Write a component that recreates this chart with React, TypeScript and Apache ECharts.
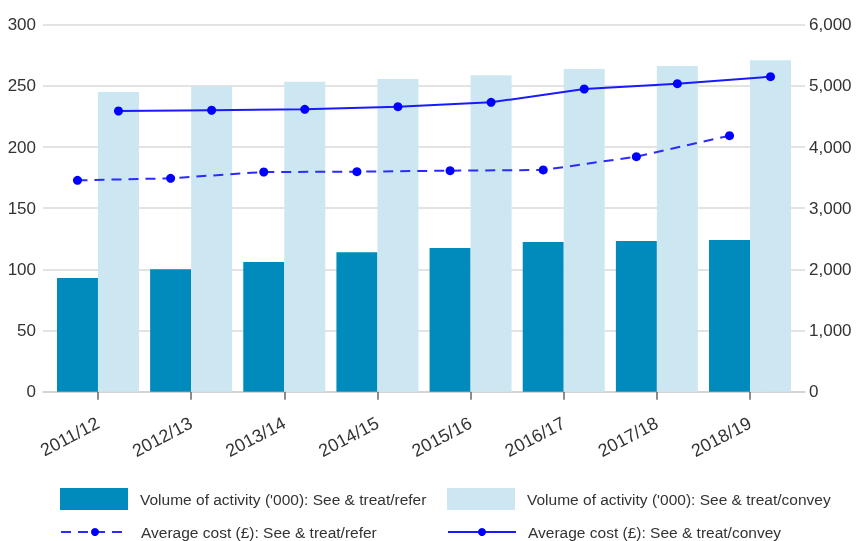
import React, { useEffect, useRef } from "react";
import * as echarts from "echarts";

const categories = ["2011/12", "2012/13", "2013/14", "2014/15", "2015/16", "2016/17", "2017/18", "2018/19"];
const volumeRefer = [93, 100, 106, 114, 117.5, 122.4, 123.2, 124];
const volumeConvey = [245, 249.6, 253.4, 255.6, 258.6, 263.8, 266.2, 271];
const costRefer = [3455, 3489, 3592, 3597, 3614, 3625, 3842, 4186];
const costConvey = [4589, 4601, 4617, 4660, 4731, 4949, 5036, 5150];

const NAME_VR = "Volume of activity ('000): See & treat/refer";
const NAME_VC = "Volume of activity ('000): See & treat/convey";
const NAME_CR = "Average cost (£): See & treat/refer";
const NAME_CC = "Average cost (£): See & treat/convey";

const FONT = "'Liberation Sans', Arial, sans-serif";

export default function App() {
  const ref = useRef<HTMLDivElement>(null);
  useEffect(() => {
    if (!ref.current) return;
    const chart = echarts.init(ref.current, undefined, { renderer: "svg" });
    const top = 24.7;
    const bottom = 149.3;
    const barW = 41;
    const bl = 51.4;
    const br = 63.4;
    const legendText = { fontSize: 15.5, color: "#333", fontFamily: FONT, padding: [0, 0, 0, 7] };
    const legendBase = { padding: 0, itemWidth: 68 };
    chart.setOption({
      animation: false,
      textStyle: { fontFamily: FONT },
      grid: [
        { left: 43, right: 55, top, bottom },
        { left: bl, right: br, top, bottom },
        { left: bl - barW / 2, right: br + barW / 2, top, bottom },
        { left: bl + barW / 2, right: br - barW / 2, top, bottom },
      ],
      xAxis: [
        {
          type: "value", gridIndex: 0, min: 0, max: 1, offset: 13,
          axisLine: { show: true, lineStyle: { color: "#d0d0d0", width: 1.5 } },
          axisTick: { show: false }, axisLabel: { show: false }, splitLine: { show: false },
        },
        {
          type: "category", gridIndex: 1, data: categories, offset: 13,
          axisLine: { show: false },
          axisTick: { show: true, alignWithLabel: true, length: 8, lineStyle: { color: "#666", width: 1.5 } },
          axisLabel: { rotate: 28, fontSize: 18, color: "#333", margin: 17, fontFamily: FONT },
        },
        { type: "category", gridIndex: 2, data: categories, show: false },
        { type: "category", gridIndex: 3, data: categories, show: false },
      ],
      yAxis: [
        {
          type: "value", gridIndex: 0, min: 0, max: 300, interval: 50, position: "left",
          axisLine: { show: false }, axisTick: { show: false },
          axisLabel: { fontSize: 17, color: "#333", margin: 7, fontFamily: FONT },
          splitLine: { show: true, lineStyle: { color: "#e3e3e3", width: 2 } },
        },
        {
          type: "value", gridIndex: 0, min: 0, max: 6000, interval: 1000, position: "right",
          axisLine: { show: false }, axisTick: { show: false },
          axisLabel: {
            fontSize: 17, color: "#333", margin: 4, fontFamily: FONT,
            formatter: (v: number) => v.toLocaleString("en-US"),
          },
          splitLine: { show: false },
        },
        { type: "value", gridIndex: 1, min: 0, max: 300, show: false, splitLine: { show: false } },
        { type: "value", gridIndex: 2, min: 0, max: 6000, show: false, splitLine: { show: false } },
        { type: "value", gridIndex: 3, min: 0, max: 6000, show: false, splitLine: { show: false } },
      ],
      legend: [
        { ...legendBase, data: [{ name: NAME_VR, icon: "rect" }], left: 60, top: 488, itemHeight: 22, textStyle: legendText },
        { ...legendBase, data: [{ name: NAME_VC, icon: "rect" }], left: 447, top: 488, itemHeight: 22, textStyle: legendText },
        { ...legendBase, data: [NAME_CR], left: 60, top: 524, itemHeight: 10, textStyle: legendText },
        { ...legendBase, data: [NAME_CC], left: 447, top: 524, itemHeight: 10, textStyle: legendText },
      ],
      series: [
        {
          name: NAME_VR, type: "bar", xAxisIndex: 1, yAxisIndex: 2, data: volumeRefer,
          barWidth: barW, barGap: "0%", itemStyle: { color: "#008bbc" },
        },
        {
          name: NAME_VC, type: "bar", xAxisIndex: 1, yAxisIndex: 2, data: volumeConvey,
          barWidth: barW, barGap: "0%", itemStyle: { color: "#cde7f2" },
        },
        {
          name: NAME_CR, type: "line", xAxisIndex: 2, yAxisIndex: 3, data: costRefer,
          symbol: "circle", symbolSize: 9, itemStyle: { color: "#0000ff" },
          lineStyle: { color: "#2b2bff", width: 2, type: [10, 7] },
        },
        {
          name: NAME_CC, type: "line", xAxisIndex: 3, yAxisIndex: 4, data: costConvey,
          symbol: "circle", symbolSize: 9, itemStyle: { color: "#0000ff" },
          lineStyle: { color: "#1a1aff", width: 2 },
        },
      ],
    });
    return () => chart.dispose();
  }, []);
  return <div ref={ref} style={{ position: "fixed", left: 0, top: 0, width: 860, height: 541 }} />;
}
